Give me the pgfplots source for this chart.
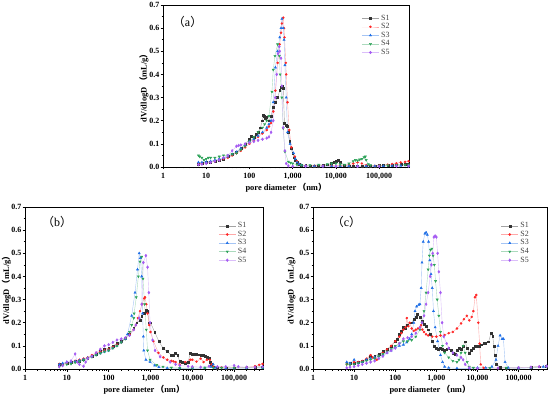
\documentclass[border=0pt]{standalone}
\usepackage{pgfplots}
\pgfplotsset{compat=1.18}
\usepackage{fontspec}
\setmainfont{Liberation Serif}
\newfontfamily\cjk{Noto Sans CJK SC}
\newcommand{\lp}{{\cjk \,（}}
\newcommand{\rp}{{\cjk ）}}
\definecolor{c1}{HTML}{333333}
\definecolor{c2}{HTML}{FF2626}
\definecolor{c3}{HTML}{1F6FE6}
\definecolor{c4}{HTML}{2EA35A}
\definecolor{c5}{HTML}{A65CF2}
\pgfplotsset{
  s1/.style={color=c1!45, line width=0.4pt, mark=square*, mark size=0.95pt, mark options={c1, solid}},
  s2/.style={color=c2!40, line width=0.4pt, mark=*, mark size=1.05pt, mark options={c2, solid}},
  s3/.style={color=c3!40, line width=0.4pt, mark=triangle*, mark size=1.3pt, mark options={c3, solid}},
  s4/.style={color=c4!40, line width=0.4pt, mark=triangle*, mark size=1.3pt, mark options={c4, solid, rotate=180}},
  s5/.style={color=c5!40, line width=0.4pt, mark=diamond*, mark size=1.4pt, mark options={c5, solid}},
  panel/.style={
    scale only axis, height=162bp,
    xmin=1, xmax=490000, ymin=0, ymax=0.7,
    xtick={1,10,100,1000,10000,100000},
    xticklabels={1,10,100,{1,000},{10,000},{100,000}},
    minor xtick={2,3,4,5,6,7,8,9,20,30,40,50,60,70,80,90,200,300,400,500,600,700,800,900,2000,3000,4000,5000,6000,7000,8000,9000,20000,30000,40000,50000,60000,70000,80000,90000,200000,300000,400000},
    ytick={0,0.1,0.2,0.3,0.4,0.5,0.6,0.7},
    minor ytick={0.05,0.15,0.25,0.35,0.45,0.55,0.65},
    yticklabel style={inner xsep=1bp, /pgf/number format/.cd, fixed, fixed zerofill, precision=1, assume math mode=true},
    tick label style={font=\fontsize{8}{9}\selectfont\bfseries},
    tick pos=left, tick align=outside,
    major tick length=2.5bp, minor tick length=1.5bp,
    axis line style={line width=0.8bp},
    every tick/.style={black, line width=0.5bp},
    xlabel={pore diameter\lp nm\rp},
    ylabel={dV/dlogD\lp mL/g\rp},
    label style={font=\fontsize{8.5}{9}\selectfont\bfseries},
    xlabel shift=-3bp,
    legend style={draw=none, fill=none, font=\fontsize{8}{9}\selectfont, text=black!75, row sep=-2.2pt, anchor=north west},
    legend cell align=left,
  },
}
\begin{document}
\begin{tikzpicture}
\useasboundingbox (0,0) rectangle (550bp,395bp);
% ---------------- (a) ----------------
\begin{axis}[xmode=log, panel, at={(163bp,228bp)}, anchor=south west, width=246bp,
  ylabel style={at={([xshift=-19bp]rel axis cs:0,0.5)}, anchor=center},
  legend style={at={(rel axis cs:0.795,0.965)}}]
\addplot[s1] coordinates {(6.61,0.012)(7.94,0.015)(10,0.02)(12.6,0.022)(15.8,0.025)(20,0.03)(25.1,0.035)(31.6,0.045)(39.8,0.055)(50.1,0.065)(63.1,0.08)(79.4,0.1)(100,0.12)(112,0.135)(126,0.13)(141,0.14)(158,0.15)(178,0.17)(200,0.2)(209,0.225)(224,0.22)(234,0.21)(251,0.215)(282,0.2)(316,0.22)(355,0.26)(398,0.28)(447,0.3)(501,0.33)(537,0.345)(562,0.35)(603,0.34)(646,0.19)(692,0.18)(741,0.175)(794,0.15)(851,0.11)(912,0.08)(1000,0.06)(1072,0.04)(1148,0.03)(1259,0.02)(1413,0.012)(1585,0.008)(1995,0.006)(2512,0.005)(3162,0.005)(3981,0.005)(5012,0.006)(6310,0.01)(7943,0.015)(8913,0.02)(10000,0.025)(11220,0.028)(12589,0.02)(15849,0.008)(19953,0.004)(25119,0.003)(31623,0.003)(39811,0.003)(50119,0.003)(63096,0.004)(79433,0.005)(100000,0.007)(125893,0.008)(158489,0.008)(199526,0.009)(251189,0.01)(316228,0.011)(398107,0.012)(478630,0.012)};
\addplot[s2] coordinates {(6.61,0.012)(7.94,0.015)(10,0.018)(12.6,0.02)(15.8,0.025)(20,0.03)(25.1,0.035)(31.6,0.04)(39.8,0.05)(50.1,0.06)(63.1,0.07)(79.4,0.085)(100,0.1)(126,0.115)(158,0.13)(200,0.145)(251,0.16)(282,0.175)(316,0.19)(355,0.24)(398,0.33)(447,0.45)(501,0.53)(537,0.58)(562,0.62)(603,0.645)(631,0.6)(646,0.56)(692,0.45)(708,0.4)(759,0.28)(832,0.16)(933,0.085)(1122,0.045)(1259,0.025)(1413,0.012)(1995,0.006)(3162,0.005)(5012,0.005)(7943,0.006)(12589,0.006)(19953,0.01)(25119,0.015)(31623,0.02)(39811,0.015)(50119,0.008)(79433,0.005)(100000,0.006)(158489,0.01)(199526,0.013)(251189,0.016)(316228,0.02)(398107,0.022)(478630,0.025)};
\addplot[s3] coordinates {(6.61,0.02)(7.94,0.02)(10,0.022)(12.6,0.025)(15.8,0.03)(20,0.035)(25.1,0.04)(31.6,0.045)(39.8,0.055)(50.1,0.065)(63.1,0.08)(79.4,0.095)(100,0.11)(126,0.12)(158,0.135)(200,0.15)(251,0.17)(282,0.185)(316,0.2)(355,0.28)(398,0.43)(447,0.5)(501,0.56)(537,0.6)(562,0.64)(603,0.6)(631,0.55)(661,0.44)(708,0.3)(759,0.15)(871,0.1)(1047,0.06)(1148,0.035)(1259,0.02)(1413,0.012)(1585,0.008)(1995,0.005)(3162,0.004)(5012,0.004)(7943,0.004)(12589,0.004)(19953,0.004)(31623,0.004)(50119,0.004)(79433,0.004)(125893,0.004)(199526,0.005)(316228,0.005)(478630,0.006)};
\addplot[s4] coordinates {(6.61,0.05)(7.08,0.045)(7.94,0.04)(8.91,0.03)(10,0.035)(11.2,0.04)(12.6,0.04)(15.8,0.04)(20,0.045)(25.1,0.05)(31.6,0.05)(39.8,0.055)(50.1,0.06)(63.1,0.075)(79.4,0.09)(100,0.11)(126,0.13)(158,0.15)(200,0.17)(224,0.185)(251,0.2)(282,0.22)(331,0.325)(355,0.42)(389,0.48)(447,0.53)(490,0.48)(513,0.4)(562,0.3)(603,0.167)(661,0.066)(794,0.023)(891,0.018)(1000,0.015)(1259,0.01)(1585,0.008)(2512,0.008)(3981,0.01)(6310,0.012)(7943,0.015)(10000,0.015)(12589,0.012)(15849,0.01)(19953,0.015)(25119,0.025)(28184,0.03)(31623,0.028)(35481,0.032)(39811,0.035)(44668,0.042)(47863,0.045)(50119,0.03)(56234,0.012)(63096,0.008)(100000,0.006)(158489,0.007)(251189,0.008)(398107,0.009)(478630,0.01)};
\addplot[s5] coordinates {(6.61,0.01)(7.94,0.012)(10,0.015)(12.6,0.02)(15.8,0.025)(20,0.03)(25.1,0.04)(31.6,0.05)(39.8,0.07)(50.1,0.09)(56.2,0.093)(63.1,0.095)(79.4,0.1)(100,0.105)(126,0.11)(158,0.115)(200,0.12)(251,0.125)(282,0.13)(316,0.15)(355,0.2)(398,0.3)(427,0.4)(457,0.49)(490,0.52)(501,0.5)(537,0.47)(562,0.35)(603,0.17)(661,0.07)(708,0.015)(794,0.005)(1000,0.003)(2000,0.003)(5012,0.003)(10000,0.003)(31623,0.003)(100000,0.003)(251189,0.004)(478630,0.004)};
\legend{S1,S2,S3,S4,S5}
\node[font=\fontsize{12}{13}\selectfont] at (rel axis cs:0.1,0.895) {{\cjk （}a{\cjk ）}};
\end{axis}
% ---------------- (b) ----------------
\begin{axis}[xmode=log, panel, at={(25bp,26bp)}, anchor=south west, width=238bp,
  ylabel style={at={([xshift=-18.5bp]rel axis cs:0,0.5)}, anchor=center},
  legend style={at={(rel axis cs:0.8,0.93)}}]
\addplot[s1] coordinates {(6.61,0.02)(7.94,0.022)(10,0.025)(12.6,0.028)(15.8,0.032)(20,0.035)(25.1,0.04)(31.6,0.045)(39.8,0.055)(50.1,0.065)(63.1,0.075)(79.4,0.085)(100,0.09)(126,0.1)(158,0.11)(200,0.12)(251,0.135)(316,0.15)(398,0.175)(468,0.2)(562,0.21)(617,0.23)(708,0.24)(776,0.255)(851,0.25)(933,0.2)(1000,0.2)(1259,0.16)(1585,0.12)(1995,0.09)(2512,0.075)(3162,0.06)(3548,0.058)(3981,0.068)(4467,0.06)(5012,0.032)(5623,0.03)(6761,0.025)(7943,0.03)(8913,0.068)(10000,0.065)(11220,0.065)(12589,0.063)(14125,0.062)(15849,0.06)(17783,0.058)(19953,0.056)(22387,0.05)(25119,0.045)(26303,0.03)(28184,0.02)(31623,0.01)(39811,0.005)(63096,0.004)(100000,0.005)(199526,0.006)(316228,0.008)(478630,0.01)};
\addplot[s2] coordinates {(6.61,0.022)(7.94,0.022)(10,0.025)(12.6,0.03)(15.8,0.035)(20,0.04)(25.1,0.045)(31.6,0.05)(39.8,0.06)(50.1,0.07)(63.1,0.075)(79.4,0.08)(100,0.085)(126,0.095)(158,0.105)(200,0.115)(251,0.13)(316,0.15)(398,0.17)(447,0.19)(501,0.22)(562,0.25)(631,0.28)(708,0.305)(741,0.31)(794,0.28)(851,0.24)(933,0.19)(1000,0.16)(1175,0.12)(1549,0.07)(2042,0.05)(2512,0.04)(3162,0.035)(3548,0.033)(3981,0.03)(5012,0.02)(6761,0.03)(8913,0.04)(10000,0.04)(12589,0.032)(15849,0.045)(18621,0.03)(22387,0.04)(26303,0.04)(28840,0.02)(31623,0.01)(50119,0.006)(100000,0.005)(199526,0.007)(316228,0.012)(398107,0.018)(478630,0.022)};
\addplot[s3] coordinates {(6.61,0.02)(7.94,0.025)(10,0.03)(12.6,0.03)(15.8,0.033)(20,0.037)(25.1,0.042)(31.6,0.048)(39.8,0.055)(50.1,0.062)(63.1,0.068)(79.4,0.075)(100,0.08)(126,0.09)(158,0.1)(200,0.115)(251,0.13)(282,0.15)(355,0.23)(427,0.33)(490,0.43)(537,0.5)(575,0.48)(616,0.4)(646,0.24)(676,0.14)(692,0.08)(776,0.04)(977,0.03)(1259,0.015)(1585,0.008)(2512,0.004)(5012,0.003)(10000,0.003)(19953,0.004)(28184,0.01)(31623,0.02)(35481,0.005)(63096,0.003)(100000,0.003)(199526,0.004)(478630,0.005)};
\addplot[s4] coordinates {(6.61,0.01)(7.94,0.015)(10,0.02)(12.6,0.022)(15.8,0.028)(20,0.032)(25.1,0.038)(31.6,0.045)(39.8,0.052)(50.1,0.06)(63.1,0.068)(79.4,0.075)(100,0.08)(126,0.09)(158,0.1)(200,0.115)(251,0.13)(316,0.16)(355,0.19)(398,0.22)(407,0.24)(457,0.31)(513,0.4)(562,0.464)(617,0.485)(661,0.39)(724,0.28)(794,0.17)(851,0.08)(977,0.04)(1413,0.017)(1995,0.01)(3162,0.006)(5012,0.004)(10000,0.004)(19953,0.005)(31623,0.006)(50119,0.005)(100000,0.005)(199526,0.005)(478630,0.006)};
\addplot[s5] coordinates {(6.61,0.01)(7.94,0.015)(10,0.03)(12.6,0.035)(15.8,0.065)(17.8,0.03)(20,0.02)(25.1,0.012)(28.2,0.03)(31.6,0.045)(39.8,0.055)(50.1,0.07)(63.1,0.085)(79.4,0.1)(100,0.105)(126,0.115)(158,0.125)(200,0.13)(251,0.135)(316,0.145)(398,0.17)(447,0.19)(537,0.22)(616,0.28)(676,0.46)(776,0.49)(851,0.44)(912,0.33)(977,0.2)(1122,0.125)(1288,0.08)(1698,0.053)(2951,0.03)(3981,0.02)(5012,0.015)(7943,0.012)(10000,0.01)(15849,0.008)(25119,0.012)(39811,0.01)(63096,0.01)(100000,0.015)(125893,0.01)(199526,0.008)(316228,0.008)(478630,0.01)};
\legend{S1,S2,S3,S4,S5}
\node[font=\fontsize{12}{13}\selectfont] at (rel axis cs:0.135,0.907) {{\cjk （}b{\cjk ）}};
\end{axis}
% ---------------- (c) ----------------
\begin{axis}[xmode=log, panel, at={(313bp,26bp)}, anchor=south west, width=234bp,
  ylabel style={at={([xshift=-22bp]rel axis cs:0,0.5)}, anchor=center},
  legend style={at={(rel axis cs:0.79,0.93)}}]
\addplot[s1] coordinates {(6.61,0.027)(7.94,0.025)(10,0.025)(12.6,0.03)(15.8,0.035)(20,0.04)(25.1,0.055)(31.6,0.055)(39.8,0.065)(50.1,0.075)(63.1,0.085)(79.4,0.1)(100,0.12)(112,0.13)(126,0.15)(141,0.165)(158,0.18)(178,0.175)(191,0.19)(224,0.2)(251,0.2)(282,0.215)(316,0.225)(347,0.235)(398,0.225)(447,0.205)(501,0.195)(562,0.185)(631,0.17)(708,0.15)(794,0.12)(891,0.1)(1000,0.09)(1122,0.085)(1259,0.09)(1413,0.085)(1585,0.08)(1778,0.085)(1995,0.09)(2239,0.08)(2512,0.07)(2818,0.065)(3162,0.08)(3548,0.09)(3981,0.085)(4467,0.1)(5012,0.118)(5623,0.09)(6310,0.07)(7079,0.08)(7943,0.09)(8913,0.1)(10000,0.1)(11220,0.1)(12589,0.105)(14125,0.11)(15849,0.11)(18621,0.118)(21380,0.155)(23442,0.14)(25119,0.1)(26303,0.06)(28840,0.02)(35481,0.008)(50119,0.005)(100000,0.005)(199526,0.008)(316228,0.01)(478630,0.012)};
\addplot[s2] coordinates {(6.61,0.02)(7.94,0.02)(10,0.03)(12.6,0.03)(15.8,0.035)(20,0.045)(25.1,0.06)(28.2,0.05)(31.6,0.045)(35.5,0.04)(39.8,0.055)(50.1,0.07)(63.1,0.085)(79.4,0.1)(100,0.12)(126,0.14)(141,0.155)(158,0.17)(178,0.18)(191,0.22)(209,0.185)(224,0.2)(251,0.175)(282,0.165)(316,0.17)(355,0.175)(398,0.18)(427,0.19)(457,0.17)(501,0.16)(562,0.15)(631,0.145)(794,0.14)(1000,0.14)(1259,0.145)(1585,0.147)(1995,0.155)(2512,0.16)(3162,0.175)(3981,0.197)(4677,0.215)(5495,0.23)(6310,0.21)(7244,0.225)(7943,0.25)(8710,0.31)(9333,0.32)(10471,0.2)(11220,0.11)(12023,0.02)(14125,0.005)(31623,0.004)(100000,0.005)(199526,0.008)(316228,0.01)(478630,0.012)};
\addplot[s3] coordinates {(6.61,0.03)(7.94,0.025)(10,0.04)(12.6,0.025)(15.8,0.03)(20,0.04)(25.1,0.045)(31.6,0.05)(39.8,0.055)(50.1,0.06)(63.1,0.07)(79.4,0.08)(100,0.095)(126,0.1)(158,0.105)(191,0.115)(224,0.13)(251,0.15)(282,0.2)(302,0.25)(331,0.27)(372,0.277)(398,0.28)(427,0.35)(447,0.46)(479,0.55)(525,0.585)(562,0.59)(603,0.58)(646,0.55)(692,0.47)(741,0.41)(794,0.35)(851,0.25)(933,0.18)(1072,0.12)(1259,0.06)(1413,0.03)(1585,0.01)(1995,0.005)(3162,0.003)(6310,0.003)(10000,0.005)(15849,0.005)(22387,0.01)(28184,0.04)(31623,0.1)(35481,0.145)(39811,0.13)(42658,0.13)(46774,0.03)(56234,0.005)(100000,0.003)(199526,0.005)(398107,0.01)(478630,0.012)};
\addplot[s4] coordinates {(6.61,0.02)(7.94,0.018)(10,0.02)(12.6,0.025)(15.8,0.03)(20,0.035)(25.1,0.04)(31.6,0.045)(39.8,0.055)(50.1,0.065)(63.1,0.075)(79.4,0.085)(100,0.1)(126,0.11)(158,0.12)(200,0.12)(251,0.125)(316,0.14)(398,0.17)(447,0.2)(501,0.25)(562,0.33)(631,0.43)(676,0.49)(724,0.515)(776,0.52)(832,0.49)(891,0.45)(955,0.38)(1047,0.3)(1148,0.23)(1259,0.16)(1413,0.1)(1585,0.07)(1995,0.05)(2512,0.035)(3162,0.03)(3548,0.04)(3981,0.07)(4467,0.1)(5012,0.07)(5623,0.03)(6310,0.01)(7943,0.005)(19953,0.004)(50119,0.005)(100000,0.005)(199526,0.006)(478630,0.01)};
\addplot[s5] coordinates {(6.61,0.005)(7.94,0.008)(10,0.01)(12.6,0.015)(15.8,0.02)(20,0.025)(25.1,0.03)(31.6,0.035)(39.8,0.045)(50.1,0.055)(63.1,0.07)(79.4,0.08)(100,0.09)(126,0.11)(158,0.13)(200,0.135)(251,0.14)(316,0.155)(398,0.18)(447,0.2)(501,0.23)(562,0.28)(631,0.33)(708,0.4)(759,0.45)(813,0.5)(871,0.57)(933,0.575)(1000,0.57)(1072,0.5)(1148,0.42)(1259,0.33)(1380,0.2)(1514,0.14)(1778,0.11)(1995,0.09)(2512,0.07)(3162,0.06)(3981,0.05)(4467,0.04)(5012,0.02)(6310,0.005)(10000,0.003)(31623,0.004)(100000,0.006)(199526,0.008)(316228,0.01)(478630,0.012)};
\legend{S1,S2,S3,S4,S5}
\node[font=\fontsize{12}{13}\selectfont] at (rel axis cs:0.143,0.907) {{\cjk （}c{\cjk ）}};
\end{axis}
\end{tikzpicture}
\end{document}
